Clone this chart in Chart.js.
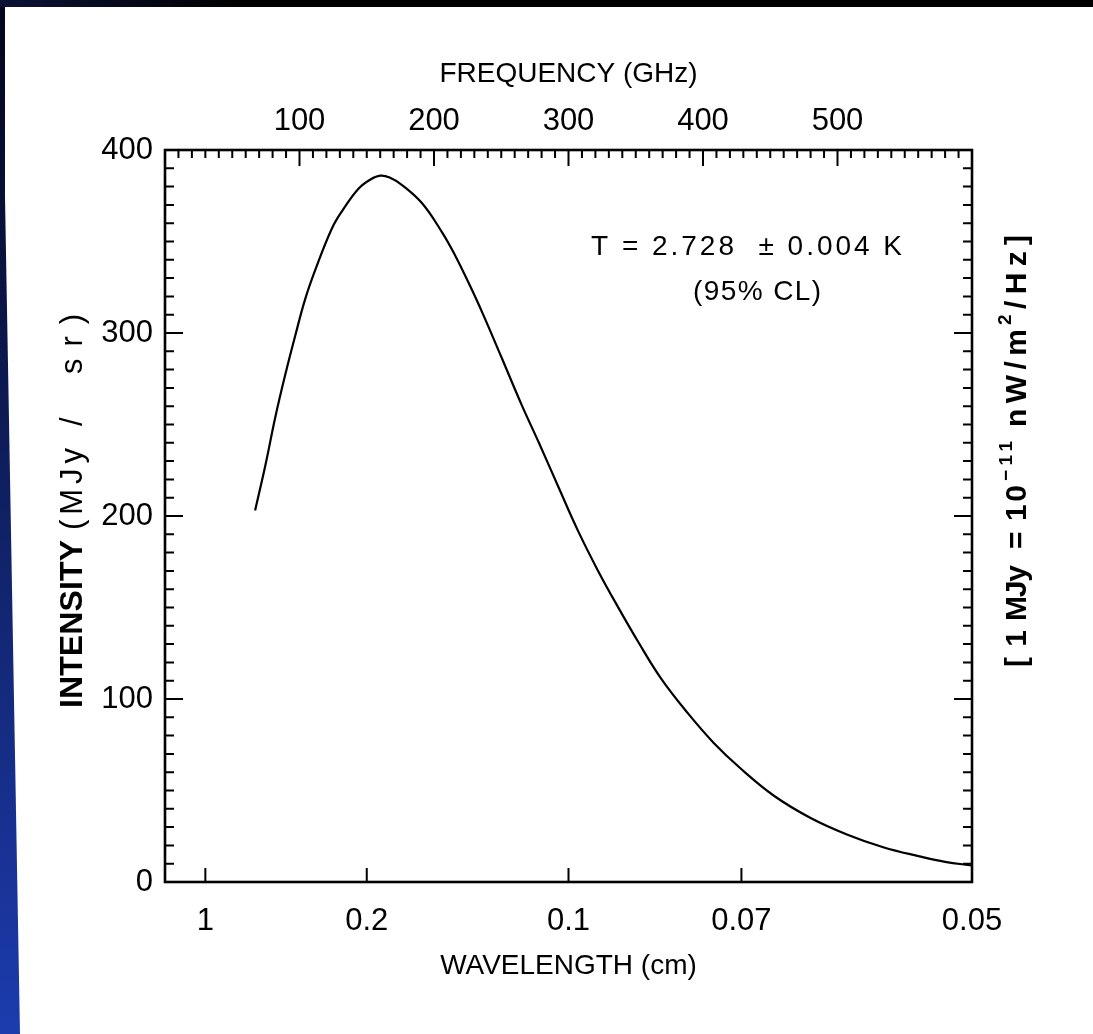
<!DOCTYPE html>
<html>
<head>
<meta charset="utf-8">
<script src="https://cdn.jsdelivr.net/npm/chart.js@4.4.1/dist/chart.umd.min.js"></script>
<style>
  html, body { margin: 0; padding: 0; width: 1093px; height: 1034px; overflow: hidden;
    background: linear-gradient(to bottom, #03051a, #1c3cae); }
  #barra { position: absolute; left: 0; top: 0; width: 1093px; height: 7px;
    background: linear-gradient(to right, #0b1235, #000 22%, #000); }
  #panel { position: absolute; left: 0; top: 7px; right: 0; bottom: 0; background: #fff;
    clip-path: polygon(5px 0, 100% 0, 100% 100%, 20px 100%, 5px 190px); }
  #caja { position: absolute; left: 0; top: 0; width: 1093px; height: 1034px; }
</style>
</head>
<body>
<div id="barra"></div>
<div id="panel"></div>
<div id="caja"><canvas id="cmb" width="1093" height="1034"></canvas></div>
<script>
// Espectro: frecuencia (GHz) e intensidad (MJy/sr)
const frecuencias = [67, 75, 82, 90, 97, 104, 112, 124, 132, 144, 153, 160, 167, 176, 191, 206, 216, 226, 236, 250, 265, 278, 293, 307, 322, 337, 352, 369, 389, 408, 428, 453, 480, 507, 534, 561, 580, 600];
const intensidades = [203, 229, 254, 279, 299, 318, 335, 357, 367, 379, 384, 386, 385, 381, 371, 355, 342, 327, 311, 287, 261, 240, 215, 192, 170, 150, 131, 111, 92, 76, 62, 47, 35, 26, 19, 14, 11, 9];

// Etiquetas de los ejes
const longitudesOnda = ["1", "0.2", "0.1", "0.07", "0.05"];   // cm, eje inferior
const frecOnda = longitudesOnda.map(l => 30 / parseFloat(l));  // misma marca en GHz
const frecArriba = [100, 200, 300, 400, 500];
const marcasY = [0, 100, 200, 300, 400];

const FUENTE = "'Liberation Sans', Arial, sans-serif";

// Dibuja trozos de texto sobre una linea, estirando cada trozo a su ancho
function trozos(ctx, lista) {
  for (const p of lista) {
    ctx.font = p.font;
    ctx.letterSpacing = '0px';
    let esp = 0;
    if (p.w) {
      const nat = ctx.measureText(p.t).width;
      esp = (p.w - nat) / Math.max(p.t.length - 1, 1);
    }
    ctx.letterSpacing = esp + 'px';
    ctx.fillText(p.t, p.at, p.dy || 0);
  }
  ctx.letterSpacing = '0px';
}

const marco = {
  id: 'marco',
  afterDraw(chart) {
    const ctx = chart.ctx;
    const a = chart.chartArea;
    const sx = chart.scales.x, sy = chart.scales.y;
    ctx.save();
    ctx.strokeStyle = '#000';
    ctx.fillStyle = '#000';
    ctx.lineWidth = 2.6;
    ctx.strokeRect(a.left, a.top, a.right - a.left, a.bottom - a.top);

    // marcas hacia dentro
    ctx.lineWidth = 2;
    ctx.beginPath();
    for (let f = 10; f < 600; f += 10) {
      const px = sx.getPixelForValue(f);
      const l = f % 100 === 0 ? 16 : 8;
      ctx.moveTo(px, a.top); ctx.lineTo(px, a.top + l);
    }
    for (const f of frecOnda) {
      const px = sx.getPixelForValue(f);
      ctx.moveTo(px, a.bottom); ctx.lineTo(px, a.bottom - 14);
    }
    for (let v = 10; v < 400; v += 10) {
      const py = sy.getPixelForValue(v);
      const l = v % 100 === 0 ? 18 : 9;
      ctx.moveTo(a.left, py); ctx.lineTo(a.left + l, py);
      ctx.moveTo(a.right, py); ctx.lineTo(a.right - l, py);
    }
    ctx.stroke();

    // titulo vertical izquierdo
    ctx.textAlign = 'left';
    ctx.textBaseline = 'middle';
    ctx.save();
    ctx.translate(73, 708);
    ctx.rotate(-Math.PI / 2);
    const fn = '31px ' + FUENTE;
    trozos(ctx, [
      { t: 'INTENSITY', at: 0, w: 168, font: 'bold 32px ' + FUENTE },
      { t: '(MJy', at: 178, w: 82, font: fn },
      { t: '/', at: 282, font: fn },
      { t: 'sr)', at: 334, w: 60, font: fn }
    ]);
    ctx.restore();

    // nota del eje derecho
    ctx.save();
    ctx.translate(1018, 667);
    ctx.rotate(-Math.PI / 2);
    const fb = 'bold 30px ' + FUENTE, fs = 'bold 19px ' + FUENTE;
    trozos(ctx, [
      { t: '[1', at: 0, w: 37, font: fb },
      { t: 'MJy', at: 46, w: 56, font: fb },
      { t: '=', at: 118, font: fb },
      { t: '10', at: 146, w: 36, font: fb },
      { t: '\u221211', at: 186, w: 40, font: fs, dy: -11 },
      { t: 'nW/m', at: 240, w: 98, font: fb },
      { t: '2', at: 342, font: fs, dy: -12 },
      { t: '/Hz]', at: 358, w: 74, font: fb }
    ]);
    ctx.restore();

    // anotacion de temperatura, situada en coordenadas de datos
    const cx = sx.getPixelForValue(432);
    ctx.save();
    ctx.translate(cx - 155, sy.getPixelForValue(347));
    trozos(ctx, [{ t: 'T = 2.728  \u00b1 0.004 K', at: 0, w: 311, font: '28px ' + FUENTE }]);
    ctx.restore();
    ctx.save();
    ctx.translate(cx - 53, sy.getPixelForValue(322));
    trozos(ctx, [{ t: '(95% CL)', at: 0, w: 128, font: '28px ' + FUENTE }]);
    ctx.restore();
    ctx.restore();
  }
};

const ctx = document.getElementById('cmb').getContext('2d');
new Chart(ctx, {
  type: 'line',
  data: {
    datasets: [{
      data: frecuencias.map((f, i) => ({ x: f, y: intensidades[i] })),
      borderColor: '#000',
      borderWidth: 2.2,
      pointRadius: 0,
      tension: 0.4,
      fill: false
    }]
  },
  options: {
    responsive: false,
    animation: false,
    layout: { padding: 0 },
    plugins: { legend: { display: false }, tooltip: { enabled: false } },
    scales: {
      x: {
        type: 'linear', position: 'bottom', min: 0, max: 600,
        afterBuildTicks: s => { s.ticks = frecOnda.map(v => ({ value: v })); },
        afterFit: s => { s.height = 152; },
        grid: { display: false, drawTicks: false }, border: { display: false },
        ticks: { autoSkip: false, maxRotation: 0, padding: 21, color: '#000',
          font: { family: FUENTE, size: 31 }, callback: (v, i) => longitudesOnda[i] },
        title: { display: true, text: 'WAVELENGTH (cm)', color: '#000',
          font: { family: FUENTE, size: 28 }, padding: { top: 0, bottom: 51 } }
      },
      x2: {
        type: 'linear', position: 'top', min: 0, max: 600,
        afterBuildTicks: s => { s.ticks = frecArriba.map(v => ({ value: v })); },
        afterFit: s => { s.height = 150; },
        grid: { display: false, drawTicks: false }, border: { display: false },
        ticks: { autoSkip: false, maxRotation: 0, padding: 10, color: '#000',
          font: { family: FUENTE, size: 31 } },
        title: { display: true, text: 'FREQUENCY (GHz)', color: '#000',
          font: { family: FUENTE, size: 28 }, padding: { top: 57, bottom: 0 } }
      },
      y: {
        type: 'linear', position: 'left', min: 0, max: 400,
        afterBuildTicks: s => { s.ticks = marcasY.map(v => ({ value: v })); },
        afterFit: s => { s.width = 165; },
        grid: { display: false, drawTicks: false }, border: { display: false },
        ticks: { padding: 12, color: '#000', font: { family: FUENTE, size: 31 } }
      },
      y2: {
        type: 'linear', position: 'right', min: 0, max: 400,
        afterFit: s => { s.width = 121; },
        grid: { display: false, drawTicks: false }, border: { display: false },
        ticks: { display: false }
      }
    }
  },
  plugins: [marco]
});
</script>
</body>
</html>
